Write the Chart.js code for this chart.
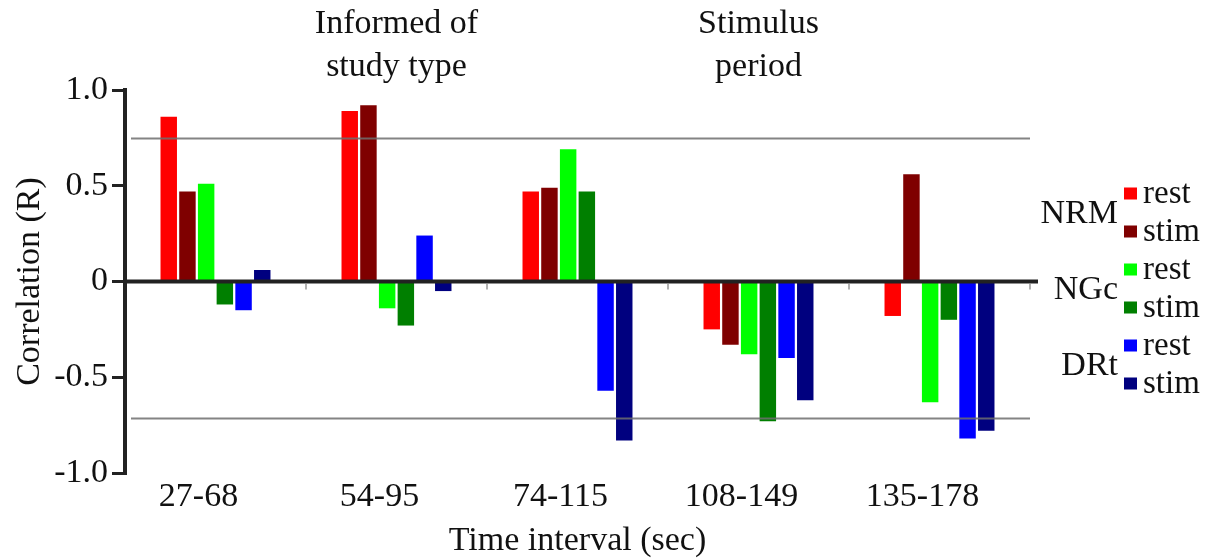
<!DOCTYPE html>
<html>
<head>
<meta charset="utf-8">
<script src="https://cdn.jsdelivr.net/npm/chart.js@4"></script>
<style>
  html, body { margin: 0; padding: 0; background: #fff; }
  #wrap { width: 1215px; height: 558px; position: relative; }
</style>
</head>
<body>
<div id="wrap"><canvas id="c"></canvas></div>
<script>
// ---- data ----
const categories = ['27-68', '54-95', '74-115', '108-149', '135-178'];
const nrmRest = [0.86, 0.89, 0.47, -0.25, -0.18];
const nrmStim = [0.47, 0.92, 0.49, -0.33, 0.56];
const ngcRest = [0.51, -0.14, 0.69, -0.38, -0.63];
const ngcStim = [-0.12, -0.23, 0.47, -0.73, -0.20];
const drtRest = [-0.15, 0.24, -0.57, -0.40, -0.82];
const drtStim = [0.06, -0.05, -0.83, -0.62, -0.78];
const yTickValues = [-1, -0.5, 0, 0.5, 1];
const yTickLabels = ['-1.0', '-0.5', '0', '0.5', '1.0'];
const thresholds = [0.75, -0.715];
const legendGroups = ['NRM', 'NGc', 'DRt'];
const legendStates = ['rest', 'stim'];
const annotations = [
  { category: '54-95', lines: ['Informed of', 'study type'] },
  { category: '108-149', lines: ['Stimulus', 'period'] }
];
const xTitle = 'Time interval (sec)';
const yTitle = 'Correlation (R)';

// ---- styles ----
const FONT = '"Liberation Serif", "Times New Roman", serif';
const colors = ['#ff0000', '#7f0000', '#00ff00', '#007f00', '#0000ff', '#00007f'];
const seriesValues = [nrmRest, nrmStim, ngcRest, ngcStim, drtRest, drtStim];

const datasets = seriesValues.map((vals, i) => ({
  label: legendGroups[Math.floor(i / 2)] + ' ' + legendStates[i % 2],
  data: vals,
  backgroundColor: colors[i],
  borderWidth: 0,
  categoryPercentage: 0.62,
  barPercentage: 0.88
}));

const decorPlugin = {
  id: 'decor',
  afterDatasetsDraw(chart) {
    const { ctx, chartArea, scales } = chart;
    const x = scales.x, y = scales.y;
    ctx.save();
    // threshold lines
    ctx.strokeStyle = 'rgba(110,110,110,0.85)';
    ctx.lineWidth = 2;
    thresholds.forEach(t => {
      const py = Math.round(y.getPixelForValue(t)) + 0.5;
      ctx.beginPath();
      ctx.moveTo(chartArea.left + 6, py);
      ctx.lineTo(chartArea.right, py);
      ctx.stroke();
    });
    // zero line
    const y0 = y.getPixelForValue(0);
    ctx.strokeStyle = '#222';
    ctx.lineWidth = 4;
    ctx.beginPath();
    ctx.moveTo(chartArea.left, y0);
    ctx.lineTo(chartArea.right + 8, y0);
    ctx.stroke();
    // small category ticks below zero line
    const cw = x.width / categories.length;
    ctx.strokeStyle = 'rgba(140,140,140,0.9)';
    ctx.lineWidth = 1.5;
    categories.forEach((c, i) => {
      const px = x.getPixelForValue(i) + cw / 2;
      ctx.beginPath();
      ctx.moveTo(px, y0 + 2);
      ctx.lineTo(px, y0 + 8);
      ctx.stroke();
    });
    ctx.restore();
  },
  afterDraw(chart) {
    const { ctx, scales, chartArea } = chart;
    const x = scales.x, y = scales.y;
    ctx.save();
    // annotations above categories
    ctx.fillStyle = '#111';
    ctx.font = '34px ' + FONT;
    ctx.textAlign = 'center';
    ctx.textBaseline = 'middle';
    annotations.forEach(a => {
      const px = x.getPixelForValue(categories.indexOf(a.category));
      a.lines.forEach((line, j) => {
        ctx.fillText(line, px, 24 + j * 43);
      });
    });
    // custom grouped legend
    const sqX = chartArea.right + 95;
    const rowTop = y.getPixelForValue(0) - 88;
    const rowGap = 38;
    seriesValues.forEach((vals, i) => {
      const cy = rowTop + i * rowGap;
      ctx.fillStyle = colors[i];
      ctx.fillRect(sqX - 1, cy - 6, 13, 12);
      ctx.fillStyle = '#111';
      ctx.font = '33px ' + FONT;
      ctx.textAlign = 'left';
      ctx.textBaseline = 'middle';
      ctx.fillText(legendStates[i % 2], sqX + 18, cy + 1);
    });
    legendGroups.forEach((g, k) => {
      const cy = rowTop + (2 * k) * rowGap + rowGap / 2 + 2;
      ctx.fillStyle = '#111';
      ctx.font = '34px ' + FONT;
      ctx.textAlign = 'right';
      ctx.textBaseline = 'middle';
      ctx.fillText(g, sqX - 7, cy);
    });
    ctx.restore();
  }
};

new Chart(document.getElementById('c'), {
  type: 'bar',
  data: { labels: categories, datasets },
  options: {
    responsive: true,
    maintainAspectRatio: false,
    animation: false,
    layout: { padding: { top: 90, right: 185, bottom: 0, left: 0 } },
    plugins: { legend: { display: false }, tooltip: { enabled: false } },
    scales: {
      x: {
        grid: { display: false, drawTicks: false },
        border: { display: false },
        ticks: { color: '#111', font: { family: FONT, size: 34 }, padding: 4, labelOffset: -17, maxRotation: 0 },
        title: { display: true, text: xTitle, color: '#111', font: { family: FONT, size: 34 }, padding: { top: 0, bottom: -3 } },
        afterFit(scale) { scale.height = 85; }
      },
      y: {
        min: -1, max: 1,
        afterBuildTicks(scale) { scale.ticks = yTickValues.map(v => ({ value: v })); },
        grid: { display: true, drawOnChartArea: false, drawTicks: true, tickLength: 13, tickColor: '#222', tickWidth: 3, lineWidth: 3 },
        border: { display: true, color: '#222', width: 4 },
        ticks: {
          color: '#111', font: { family: FONT, size: 34 }, padding: 4,
          callback: (v) => yTickLabels[yTickValues.indexOf(v)]
        },
        title: { display: true, text: yTitle, color: '#111', font: { family: FONT, size: 34 }, padding: { top: 10, bottom: 0 } },
        afterFit(scale) { scale.width = 125; }
      }
    }
  },
  plugins: [decorPlugin]
});
</script>
</body>
</html>
